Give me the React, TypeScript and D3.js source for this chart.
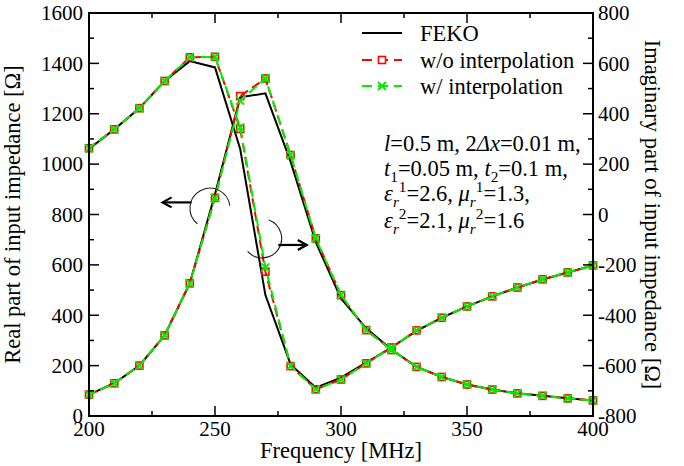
import React from "react";
import * as d3 from "d3";

const freq = [200, 210, 220, 230, 240, 250, 260, 270, 280, 290, 300, 310, 320, 330, 340, 350, 360, 370, 380, 390, 400];
const fekoRe = [1060, 1138, 1222, 1330, 1409, 1384, 1060, 480, 205, 112, 152, 212, 272, 338, 390, 435, 475, 510, 542, 570, 598];
const fekoIm = [-715, -670, -600, -480, -273, 80, 465, 481, 210, -110, -333, -452, -536, -605, -645, -675, -695, -710, -720, -730, -738];
const woRe = [1063, 1138, 1222, 1330, 1424, 1426, 1140, 573, 198, 106, 145, 209, 272, 340, 390, 435, 475, 510, 543, 570, 598];
const woIm = [-715, -670, -600, -480, -273, 66, 470, 540, 236, -95, -320, -459, -538, -605, -645, -675, -695, -710, -720, -730, -738];
const wRe = [1063, 1138, 1222, 1330, 1424, 1426, 1146, 590, 198, 106, 145, 209, 272, 340, 390, 435, 475, 510, 543, 570, 598];
const wIm = [-715, -670, -600, -480, -273, 66, 452, 540, 236, -95, -320, -459, -538, -605, -645, -675, -695, -710, -720, -730, -738];

const xTicks = [200, 250, 300, 350, 400];
const leftTicks = [0, 200, 400, 600, 800, 1000, 1200, 1400, 1600];
const rightTicks = [-800, -600, -400, -200, 0, 200, 400, 600, 800];

const legendLabels = ["FEKO", "w/o interpolation", "w/ interpolation"];

// annotation anchors in data coordinates (freq, real-axis value)
const arcLeft = { f: 248, v: 825, start: 129, end: 353 };
const arcRight = { f: 268.7, v: 705, start: 290, end: 498 };
const arrowLeft = { f0: 240.7, f1: 229.2, v: 848 };
const arrowRight = { f0: 275.1, f1: 286.4, v: 679 };

const FONT = "Liberation Serif";
const RED = "#ff0000";
const GREEN = "#00ee00";

const L = 89, R = 593, T = 13, B = 416;

type Seg = [string, string?];

function RichLine({ x, y, segs, size }: { x: number; y: number; segs: Seg[]; size: number }) {
  let cur = 0;
  return (
    <text x={x} y={y} fontFamily={FONT} fontSize={size}>
      {segs.map(([t, s], i) => {
        const st = s || "";
        let target = 0;
        if (st.includes("sub")) target = 6;
        if (st.includes("sup")) target = -9;
        const dy = target - cur;
        cur = target;
        const small = st.includes("sub") || st.includes("sup");
        return (
          <tspan key={i} dy={dy} fontStyle={st.includes("i") ? "italic" : "normal"} fontSize={small ? size * 0.68 : size}>
            {t}
          </tspan>
        );
      })}
    </text>
  );
}

function arcPath(cx: number, cy: number, r: number, a0: number, a1: number) {
  const rad = Math.PI / 180;
  const p0 = [cx + r * Math.cos(a0 * rad), cy + r * Math.sin(a0 * rad)];
  const p1 = [cx + r * Math.cos(a1 * rad), cy + r * Math.sin(a1 * rad)];
  const large = a1 - a0 > 180 ? 1 : 0;
  return `M${p0[0]},${p0[1]} A${r},${r} 0 ${large} 1 ${p1[0]},${p1[1]}`;
}

function Arrow({ x0, x1, y }: { x0: number; x1: number; y: number }) {
  const dir = x1 > x0 ? 1 : -1;
  const h = 9, w = 5;
  return (
    <g stroke="#000" strokeWidth={2.2} fill="none">
      <line x1={x0} y1={y} x2={x1} y2={y} />
      <path d={`M${x1 - dir * h},${y - w} L${x1},${y} L${x1 - dir * h},${y + w}`} />
    </g>
  );
}

export default function App() {
  const x = d3.scaleLinear().domain([200, 400]).range([L, R]);
  const yL = d3.scaleLinear().domain([0, 1600]).range([B, T]);
  const yR = d3.scaleLinear().domain([-800, 800]).range([B, T]);

  const lineL = (vals: number[]) =>
    d3.line<number>().x((_, i) => x(freq[i])).y((v) => yL(v))(vals) || "";
  const lineR = (vals: number[]) =>
    d3.line<number>().x((_, i) => x(freq[i])).y((v) => yR(v))(vals) || "";

  const xMinor = d3.range(200, 401, 25).filter((v) => !xTicks.includes(v));
  const yMinor = d3.range(0, 1601, 100).filter((v) => !leftTicks.includes(v));
  const MAJ = 10, MIN = 5;

  const tickSize = 21;
  const textSize = 22.5;

  const squares = (vals: number[], ys: (v: number) => number, key: string) =>
    vals.map((v, i) => (
      <rect key={key + i} x={x(freq[i]) - 3.5} y={ys(v) - 3.5} width={7} height={7} fill="none" stroke={RED} strokeWidth={1.6} />
    ));
  const crosses = (vals: number[], ys: (v: number) => number, key: string) =>
    vals.map((v, i) => {
      const cx = x(freq[i]), cy = ys(v), s = 4;
      return (
        <path key={key + i} d={`M${cx - s},${cy - s}L${cx + s},${cy + s}M${cx - s},${cy + s}L${cx + s},${cy - s}`} stroke={GREEN} strokeWidth={2} />
      );
    });

  const legendY = [33, 60, 86];

  return (
    <svg width={684} height={466} fontFamily={FONT} style={{ position: "absolute", left: 0, top: 0, fontFamily: FONT }}>
      <rect x={0} y={0} width={684} height={466} fill="#fff" />

      {/* data lines */}
      <path d={lineL(fekoRe)} fill="none" stroke="#000" strokeWidth={2} />
      <path d={lineR(fekoIm)} fill="none" stroke="#000" strokeWidth={2} />
      <path d={lineL(woRe)} fill="none" stroke={RED} strokeWidth={2} strokeDasharray="9 5" />
      <path d={lineR(woIm)} fill="none" stroke={RED} strokeWidth={2} strokeDasharray="9 5" />
      {squares(woRe, yL, "sr")}
      {squares(woIm, yR, "si")}
      <path d={lineL(wRe)} fill="none" stroke={GREEN} strokeWidth={2} strokeDasharray="10 5" strokeDashoffset={3} />
      <path d={lineR(wIm)} fill="none" stroke={GREEN} strokeWidth={2} strokeDasharray="10 5" strokeDashoffset={3} />
      {crosses(wRe, yL, "cr")}
      {crosses(wIm, yR, "ci")}

      {/* frame */}
      <rect x={L} y={T} width={R - L} height={B - T} fill="none" stroke="#000" strokeWidth={2} />

      {/* ticks */}
      <g stroke="#000" strokeWidth={1.5}>
        {xTicks.map((v) => (
          <g key={"xt" + v}>
            <line x1={x(v)} x2={x(v)} y1={B} y2={B - MAJ} />
            <line x1={x(v)} x2={x(v)} y1={T} y2={T + MAJ} />
          </g>
        ))}
        {xMinor.map((v) => (
          <g key={"xm" + v}>
            <line x1={x(v)} x2={x(v)} y1={B} y2={B - MIN} />
            <line x1={x(v)} x2={x(v)} y1={T} y2={T + MIN} />
          </g>
        ))}
        {leftTicks.map((v) => (
          <line key={"lt" + v} x1={L} x2={L + MAJ} y1={yL(v)} y2={yL(v)} />
        ))}
        {yMinor.map((v) => (
          <line key={"lm" + v} x1={L} x2={L + MIN} y1={yL(v)} y2={yL(v)} />
        ))}
        {rightTicks.map((v) => (
          <line key={"rt" + v} x1={R} x2={R - MAJ} y1={yR(v)} y2={yR(v)} />
        ))}
        {yMinor.map((v) => (
          <line key={"rm" + v} x1={R} x2={R - MIN} y1={yL(v)} y2={yL(v)} />
        ))}
      </g>

      {/* tick labels */}
      <g fontFamily={FONT} fontSize={tickSize} fill="#000">
        {xTicks.map((v) => (
          <text key={"xl" + v} x={x(v)} y={B + 20} textAnchor="middle">{v}</text>
        ))}
        {leftTicks.map((v) => (
          <text key={"ll" + v} x={L - 6} y={yL(v)} dy="0.35em" textAnchor="end">{v}</text>
        ))}
        {rightTicks.map((v) => (
          <text key={"rl" + v} x={R + 5} y={yR(v)} dy="0.35em" textAnchor="start">{v}</text>
        ))}
      </g>

      {/* axis titles and legend labels */}
      <g fontFamily={FONT} fontSize={textSize}>
        <text x={(L + R) / 2} y={458} textAnchor="middle">Frequency [MHz]</text>
        <text transform={`translate(20,${(T + B) / 2}) rotate(-90)`} textAnchor="middle">Real part of input impedance [Ω]</text>
        <text transform={`translate(645,${(T + B) / 2}) rotate(90)`} textAnchor="middle">Imaginary part of input impedance [Ω]</text>
        {legendLabels.map((t, i) => (
          <text key={t} x={420} y={legendY[i]} dy="0.35em">{t}</text>
        ))}
      </g>

      {/* legend samples */}
      <line x1={362} x2={402} y1={legendY[0]} y2={legendY[0]} stroke="#000" strokeWidth={2} />
      <line x1={362} x2={402} y1={legendY[1]} y2={legendY[1]} stroke={RED} strokeWidth={2} strokeDasharray="10 6" />
      <rect x={382 - 3.5} y={legendY[1] - 3.5} width={7} height={7} fill="#fff" stroke={RED} strokeWidth={1.6} />
      <line x1={362} x2={402} y1={legendY[2]} y2={legendY[2]} stroke={GREEN} strokeWidth={2} strokeDasharray="10 6" />
      <path d={`M${378},${legendY[2] - 4}L${386},${legendY[2] + 4}M${378},${legendY[2] + 4}L${386},${legendY[2] - 4}`} stroke={GREEN} strokeWidth={2} />

      {/* parameter annotation */}
      <RichLine x={384} y={151} size={textSize} segs={[["l", "i"], ["=0.5 m, 2"], ["Δx", "i"], ["=0.01 m,"]]} />
      <RichLine x={384} y={176} size={textSize} segs={[["t", "i"], ["1", "sub"], ["=0.05 m, "], ["t", "i"], ["2", "sub"], ["=0.1 m,"]]} />
      <RichLine x={384} y={201} size={textSize} segs={[["ε", "i"], ["r", "isub"], ["1", "sup"], ["=2.6, "], ["μ", "i"], ["r", "isub"], ["1", "sup"], ["=1.3,"]]} />
      <RichLine x={384} y={228} size={textSize} segs={[["ε", "i"], ["r", "isub"], ["2", "sup"], ["=2.1, "], ["μ", "i"], ["r", "isub"], ["2", "sup"], ["=1.6"]]} />

      {/* arcs and arrows */}
      <path d={arcPath(x(arcLeft.f), yL(arcLeft.v), 20, arcLeft.start, arcLeft.end)} fill="none" stroke="#222" strokeWidth={1.1} />
      <path d={arcPath(x(arcRight.f), yL(arcRight.v), 19.5, arcRight.start, arcRight.end)} fill="none" stroke="#222" strokeWidth={1.1} />
      <Arrow x0={x(arrowLeft.f0)} x1={x(arrowLeft.f1)} y={yL(arrowLeft.v)} />
      <Arrow x0={x(arrowRight.f0)} x1={x(arrowRight.f1)} y={yL(arrowRight.v)} />
    </svg>
  );
}
